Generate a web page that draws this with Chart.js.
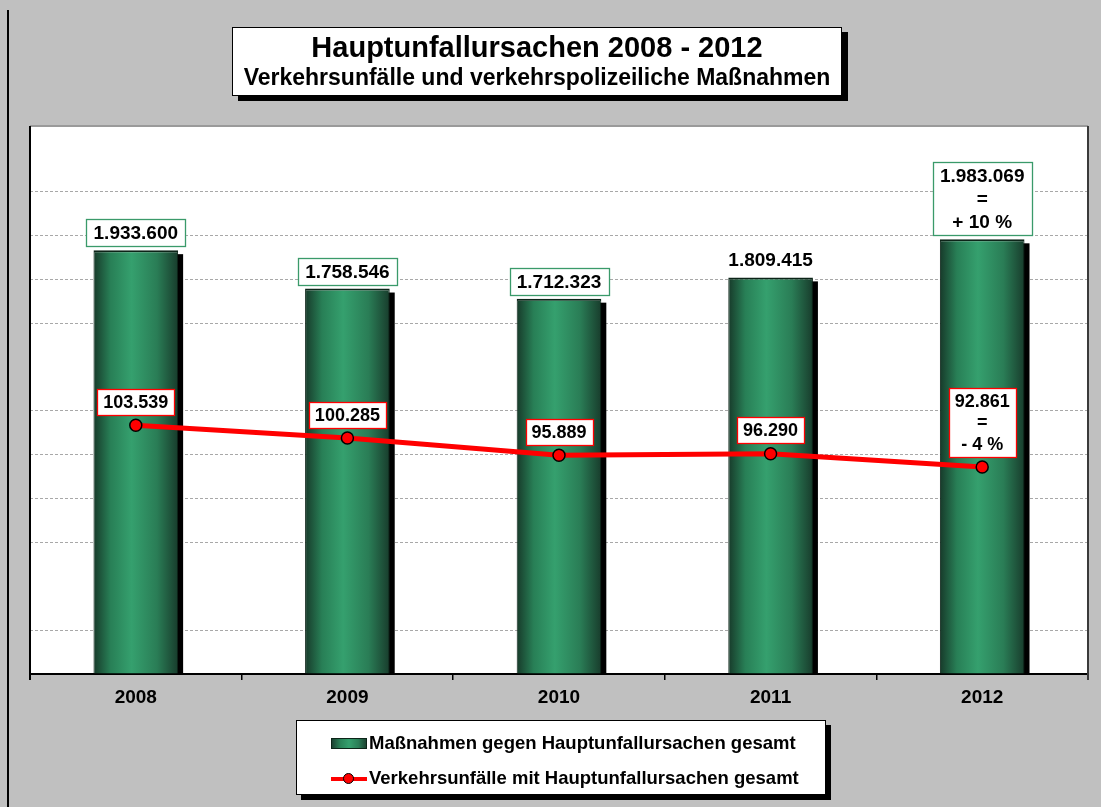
<!DOCTYPE html>
<html lang="de">
<head>
<meta charset="utf-8">
<title>Hauptunfallursachen 2008 - 2012</title>
<script src="https://cdn.jsdelivr.net/npm/chart.js@4/dist/chart.umd.min.js"></script>
<style>
    body { margin: 0; background: #c0c0c0; width: 1101px; height: 807px; overflow: hidden; position: relative; font-family: "Liberation Sans", Arial, sans-serif; }
    #rand { position: absolute; left: 7px; top: 10px; width: 2px; height: 797px; background: #000; }
    #grafico { position: absolute; left: 0; top: 0; }
    #titel { position: absolute; left: 232px; top: 27px; width: 608px; height: 67px; background: #fff; border: 1px solid #000; box-shadow: 6px 5px 0 #000; text-align: center; font-weight: bold; color: #000; }
    #titel .t1 { font-size: 29px; line-height: 30px; margin-top: 4px; }
    #titel .t2 { font-size: 23px; line-height: 28px; margin-top: 1px; }
    #legende { position: absolute; left: 296px; top: 720px; width: 528px; height: 73px; background: #fff; border: 1px solid #000; box-shadow: 5px 5px 0 #000; font-weight: bold; font-size: 18.5px; color: #000; }
    .zeile { position: absolute; left: 34px; height: 22px; line-height: 22px; white-space: nowrap; }
    .zeile span { display: inline-block; vertical-align: middle; }
    .balken { width: 36px; height: 11px; margin-right: 2px; background: linear-gradient(to right, #1a4030, #2a8459 25%, #35a06e 50%, #2a7d56 78%, #1c4432); border: 1px solid #0c2418; box-sizing: border-box; }
    .linie { position: relative; width: 36px; height: 11px; margin-right: 2px; }
    .linie:before { content: ""; position: absolute; left: 0; top: 4px; width: 36px; height: 4px; background: #ff0000; }
    .linie:after { content: ""; position: absolute; left: 12px; top: 0; width: 11px; height: 11px; border-radius: 50%; background: #ff0000; border: 1px solid #000; box-sizing: border-box; }
</style>
</head>
<body>
<div id="rand"></div>
<canvas id="grafico" width="1101" height="807"></canvas>
<div id="titel">
    <div class="t1">Hauptunfallursachen 2008 - 2012</div>
    <div class="t2">Verkehrsunfälle und verkehrspolizeiliche Maßnahmen</div>
</div>
<div id="legende">
    <div class="zeile" style="top: 10px;"><span class="balken"></span><span>Maßnahmen gegen Hauptunfallursachen gesamt</span></div>
    <div class="zeile" style="top: 45px;"><span class="linie"></span><span>Verkehrsunfälle mit Hauptunfallursachen gesamt</span></div>
</div>
<script>
// Daten
let jahre = ['2008', '2009', '2010', '2011', '2012'];
let massnahmen = [1933600, 1758546, 1712323, 1809415, 1983069];
let unfaelle = [103539, 100285, 95889, 96290, 92861];
// Zusatz unter dem Wert (nur 2012)
let massnahmenZusatz = ['', '', '', '', '+ 10 %'];
let unfaelleZusatz = ['', '', '', '', '- 4 %'];
// Gitterlinien der (unsichtbaren) linken Achse
let gitterWerte = [0, 200000, 400000, 600000, 800000, 1000000, 1200000, 1400000, 1600000, 1800000, 2000000, 2200000, 2400000];

function zahl(v) {
    return String(v).replace(/\B(?=(\d{3})+(?!\d))/g, '.');
}

function beschriftung(ctx, zeilen, cx, unten, o) {
    ctx.font = o.font;
    let breite = 0;
    zeilen.forEach(z => { breite = Math.max(breite, ctx.measureText(z).width); });
    let w = Math.round(breite + o.padX * 2);
    let h = Math.round(o.baseH + (zeilen.length - 1) * o.lineH);
    let x = Math.round(cx - w / 2), y = Math.round(unten - h);
    if (o.rahmen) {
        ctx.fillStyle = '#fff';
        ctx.fillRect(x, y, w, h);
        ctx.strokeStyle = o.rahmen;
        ctx.lineWidth = 1.3;
        ctx.strokeRect(x + 0.5, y + 0.5, w, h);
    }
    ctx.fillStyle = '#000';
    ctx.textAlign = 'center';
    ctx.textBaseline = 'middle';
    zeilen.forEach((z, i) => ctx.fillText(z, cx, y + o.baseH / 2 + i * o.lineH + 1));
}

// Hintergrund und Rahmen der Zeichenfläche
const flaeche = {
    id: 'flaeche',
    beforeDraw(chart) {
        let a = chart.chartArea, ctx = chart.ctx;
        ctx.save();
        ctx.fillStyle = '#fff';
        ctx.fillRect(a.left, a.top, a.right - a.left, a.bottom - a.top);
        ctx.restore();
    },
    afterDraw(chart) {
        let a = chart.chartArea, ctx = chart.ctx;
        ctx.save();
        ctx.lineWidth = 2;
        ctx.strokeStyle = '#9a9a9a';
        ctx.beginPath(); ctx.moveTo(a.left, a.top); ctx.lineTo(a.right, a.top); ctx.stroke();
        ctx.strokeStyle = '#3a3a3a';
        ctx.beginPath(); ctx.moveTo(a.right, a.top); ctx.lineTo(a.right, a.bottom + 6); ctx.stroke();
        ctx.strokeStyle = '#000';
        ctx.beginPath(); ctx.moveTo(a.left, a.top); ctx.lineTo(a.left, a.bottom + 6); ctx.stroke();
        ctx.restore();
    }
};

// Schatten der Säulen (aus den Säulen-Elementen abgeleitet)
const schatten = {
    id: 'schatten',
    beforeDatasetDraw(chart, args) {
        if (args.index !== 0) return;
        let ctx = chart.ctx, a = chart.chartArea;
        ctx.save();
        ctx.beginPath();
        ctx.rect(a.left, a.top, a.right - a.left, a.bottom - a.top);
        ctx.clip();
        ctx.fillStyle = '#000';
        args.meta.data.forEach(s => {
            ctx.fillRect(s.x - s.width / 2 + 5, s.y + 4, s.width, s.base - s.y);
        });
        ctx.restore();
    }
};

// Wertebeschriftungen
const werte = {
    id: 'werte',
    afterDatasetsDraw(chart) {
        let ctx = chart.ctx;
        let saeulen = chart.getDatasetMeta(0).data;
        let punkte = chart.getDatasetMeta(1).data;
        ctx.save();
        saeulen.forEach((s, i) => {
            let zeilen = [zahl(massnahmen[i])];
            if (massnahmenZusatz[i]) zeilen.push('=', massnahmenZusatz[i]);
            beschriftung(ctx, zeilen, s.x, s.y - 4, {
                font: 'bold 19px "Liberation Sans", Arial, sans-serif',
                padX: 7, baseH: 27, lineH: 23,
                rahmen: i === 3 ? null : '#3a9a6a'
            });
        });
        punkte.forEach((p, i) => {
            let zeilen = [zahl(unfaelle[i])];
            if (unfaelleZusatz[i]) zeilen.push('=', unfaelleZusatz[i]);
            beschriftung(ctx, zeilen, p.x, p.y - 10.5, {
                font: 'bold 18px "Liberation Sans", Arial, sans-serif',
                padX: 6, baseH: 26, lineH: 21.5,
                rahmen: '#ff0000'
            });
        });
        ctx.restore();
    }
};

function verlauf(c) {
    let chart = c.chart, a = chart.chartArea;
    if (!a || c.dataIndex === undefined) return '#2e8b5e';
    let xc = chart.scales.x.getPixelForValue(c.dataIndex);
    let w = (a.right - a.left) / jahre.length * 0.4;
    let g = chart.ctx.createLinearGradient(xc - w / 2, 0, xc + w / 2, 0);
    g.addColorStop(0, '#173a2a');
    g.addColorStop(0.2, '#287f56');
    g.addColorStop(0.45, '#35a06e');
    g.addColorStop(0.75, '#2a7d56');
    g.addColorStop(1, '#183c2c');
    return g;
}

// diese Gitterlinien fehlen im Original
let ausgeblendet = [0, 400000, 1400000, 2400000];

let ctx = document.getElementById('grafico');
let myChart = new Chart(ctx, {
    type: 'bar',
    data: {
        labels: jahre,
        datasets: [{
            label: 'Maßnahmen gegen Hauptunfallursachen gesamt',
            data: massnahmen,
            yAxisID: 'y',
            order: 1,
            backgroundColor: verlauf,
            borderColor: '#0c2418',
            borderWidth: { top: 2, left: 1, right: 1, bottom: 0 },
            borderSkipped: 'start',
            categoryPercentage: 0.8,
            barPercentage: 0.5
        }, {
            type: 'line',
            label: 'Verkehrsunfälle mit Hauptunfallursachen gesamt',
            data: unfaelle,
            yAxisID: 'y1',
            order: 0,
            borderColor: '#ff0000',
            borderWidth: 5,
            tension: 0,
            pointRadius: 6,
            pointBackgroundColor: '#ff0000',
            pointBorderColor: '#000',
            pointBorderWidth: 1.5
        }]
    },
    options: {
        responsive: false,
        animation: false,
        devicePixelRatio: 1,
        layout: { padding: { left: 30, right: 13, top: 126, bottom: 93 } },
        plugins: { legend: { display: false }, tooltip: { enabled: false }, title: { display: false } },
        scales: {
            x: {
                z: 1,
                grid: { drawOnChartArea: false, color: '#000', tickLength: 6, lineWidth: 1.5 },
                border: { color: '#000', width: 2 },
                ticks: { color: '#000', padding: 6, font: { family: '"Liberation Sans", Arial, sans-serif', size: 19, weight: 'bold' } },
                afterFit(scale) { scale.height = 40; }
            },
            y: {
                min: 0,
                max: 2500000,
                ticks: { display: false },
                afterBuildTicks(scale) { scale.ticks = gitterWerte.map(v => ({ value: v })); },
                grid: {
                    drawTicks: false,
                    color: c => ausgeblendet.includes(c.tick.value) ? 'rgba(0,0,0,0)' : '#a8a8a8',
                    lineWidth: 1
                },
                border: { display: false, dash: [3, 2] },
                afterFit(scale) { scale.width = 0; }
            },
            y1: {
                display: false,
                min: 40000,
                max: 180000
            }
        }
    },
    plugins: [flaeche, schatten, werte]
});
</script>
</body>
</html>
